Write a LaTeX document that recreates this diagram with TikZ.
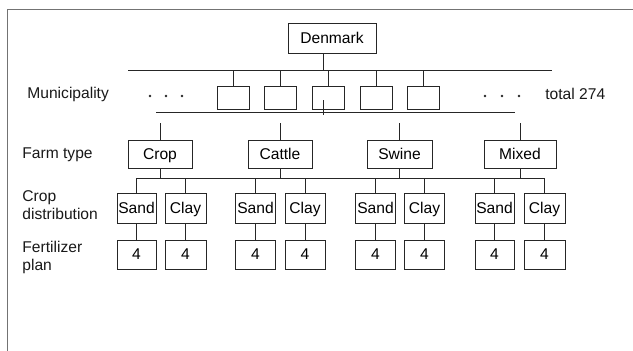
\documentclass[tikz,border=0pt]{standalone}
\usepackage{fontspec}
\setmainfont{Liberation Sans}
\begin{document}
\begin{tikzpicture}[x=1pt,y=-1pt,
  font=\fontsize{15.6}{18}\selectfont,
  every path/.style={line width=0.8pt},
  box/.style={draw=black!85, line width=0.8pt, inner sep=0pt, minimum height=#1, text height=10.9pt, text depth=0pt},
  box/.default=23pt,
  lab/.style={anchor=west, align=left, inner sep=0pt, text=black!90},
  conn/.style={draw=black!85, line width=0.8pt},
  dotmark/.style={fill=black!85}]
\useasboundingbox (0,0) rectangle (633,351);
% frame
\draw[black!55, line width=1.6pt] (633,9.5) -- (7.5,9.5) -- (7.5,351);

% top
\node[box=30pt, minimum width=88pt] (dk) at (332,38) {Denmark};
\coordinate (tbL) at (128,70);
\coordinate (tbR) at (552,70);
\draw[conn] (tbL) -- (tbR);
\coordinate (dkdrop) at (323,53);
\draw[conn] (dkdrop) -- (dkdrop |- tbL);

% municipalities
\foreach \i/\x in {1/233,2/280.5,3/328,4/376,5/423.5}{
  \node[box=23pt, minimum width=32pt] (m\i) at (\x,97.5) {};
  \draw[conn] (m\i.north) -- (m\i.north |- tbL);
}
\coordinate (lbL) at (156,112);
\coordinate (lbR) at (515,112);
\draw[conn] (lbL) -- (lbR);
\coordinate (lbup) at (323,100);
\draw[conn] (lbup) -- ++(0,15);

% labels row 1
\node[lab] (lmun) at (27,94) {Municipality};
\node[lab] (ltot) at (545,94) {total 274};
\foreach \x in {150,166,182}{ \fill[dotmark] (\x,96) circle (1.4pt); }
\foreach \x in {485,502,519}{ \fill[dotmark] (\x,96) circle (1.4pt); }

% farm types
\node[box=28pt, minimum width=64pt] (crop) at (160,154) {Crop};
\node[box=28pt, minimum width=64pt] (cattle) at (280,154) {Cattle};
\node[box=28pt, minimum width=65pt] (swine) at (399.5,154) {Swine};
\node[box=28pt, minimum width=72pt] (mixed) at (520,154) {Mixed};
\node[lab] (lfarm) at (22,155) {Farm type};

\coordinate (fbL) at (136.5,178);
\coordinate (fbR) at (544.5,178);
\draw[conn] (fbL) -- (fbR);
\foreach \f in {crop,cattle,swine,mixed}{
  \draw[conn] (\f.north) -- ++(0,-17);
  \draw[conn] (\f.south) -- (\f.south |- fbL);
}

% crop distribution and fertilizer plan
\foreach \n/\t/\x/\w in {s1/Sand/136.5/39, c1/Clay/185.5/41, s2/Sand/255.5/40, c2/Clay/305/40,
                         s3/Sand/375.5/40, c3/Clay/424.5/40, s4/Sand/494.5/39, c4/Clay/544.5/41}{
  \node[box=30pt, minimum width=\w pt] (\n) at (\x,208) {\t};
  \node[box=29pt, minimum width=\w pt] (f\n) at (\x,254.5) {4};
  \draw[conn] (\n.north) -- (\n.north |- fbL);
  \draw[conn] (\n.south) -- (f\n.north);
}
\node[lab] (lcrop) at (22,205) {Crop\\distribution};
\node[lab] (lfert) at (22,257) {Fertilizer\\plan};
\end{tikzpicture}
\end{document}
